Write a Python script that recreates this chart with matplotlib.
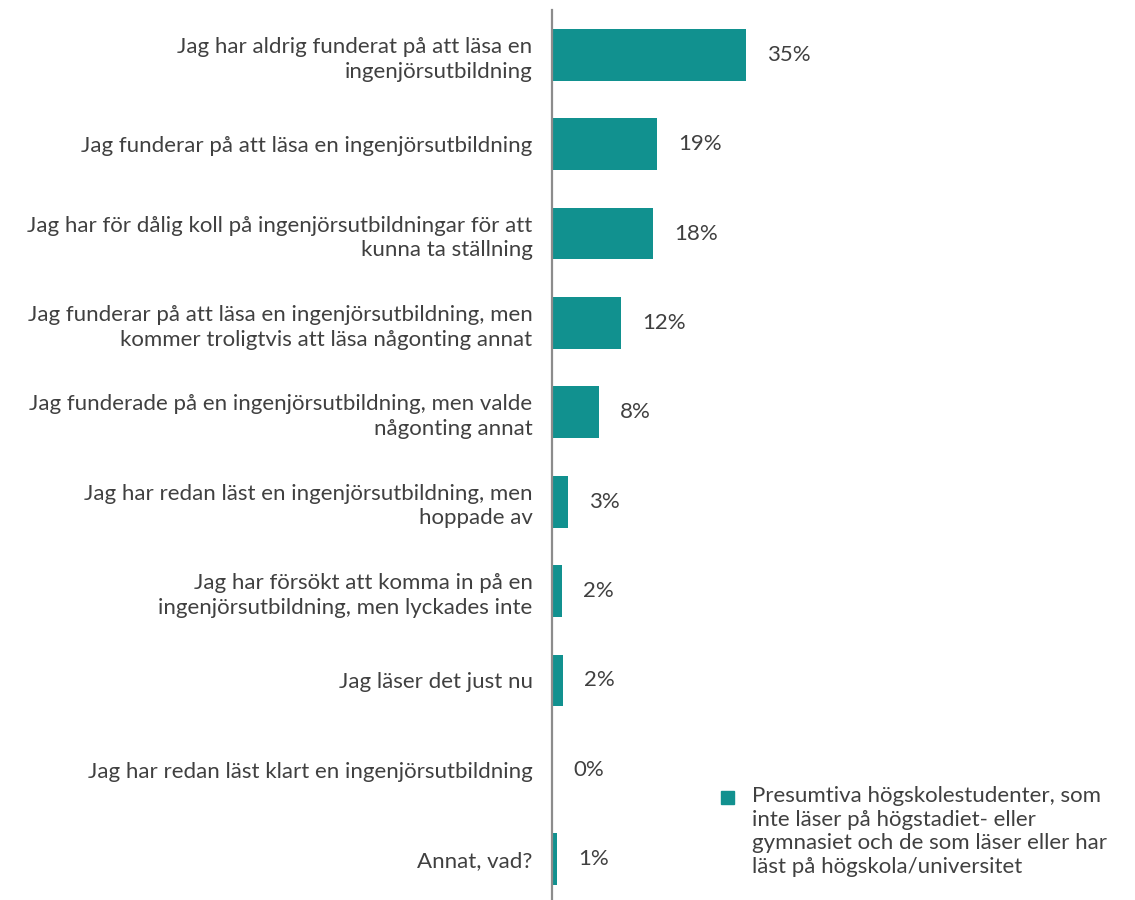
import matplotlib
matplotlib.use("Agg")
import matplotlib.pyplot as plt
from matplotlib.patches import Rectangle

plt.rcParams['font.family'] = ['Lato', 'DejaVu Sans']

categories = [
    "Jag har aldrig funderat på att läsa en\ningenjörsutbildning",
    "Jag funderar på att läsa en ingenjörsutbildning",
    "Jag har för dålig koll på ingenjörsutbildningar för att\nkunna ta ställning",
    "Jag funderar på att läsa en ingenjörsutbildning, men\nkommer troligtvis att läsa någonting annat",
    "Jag funderade på en ingenjörsutbildning, men valde\nnågonting annat",
    "Jag har redan läst en ingenjörsutbildning, men\nhoppade av",
    "Jag har försökt att komma in på en\ningenjörsutbildning, men lyckades inte",
    "Jag läser det just nu",
    "Jag har redan läst klart en ingenjörsutbildning",
    "Annat, vad?",
]
values = [35.0, 19.0, 18.2, 12.4, 8.4, 2.9, 1.8, 1.9, 0.1, 0.9]
series_name = ("Presumtiva högskolestudenter, som\ninte läser på högstadiet- eller\n"
               "gymnasiet och de som läser eller har\nläst på högskola/universitet")

bar_color = "#11918f"
text_color = "#404040"
fs = 16

W, H = 1135, 900
fig = plt.figure(figsize=(W / 100, H / 100), dpi=100)
ax = fig.add_axes([552 / W, -4 / H, (W - 552) / W, 894 / H])

ypos = list(range(len(categories)))
ax.barh(ypos, values, height=0.58, color=bar_color, label=series_name)
for y, v in zip(ypos, values):
    ax.text(v + 3.8, y, f"{v:.0f}%", va="center", ha="left",
            fontsize=fs, color=text_color)

ax.set_ylim(len(categories) - 0.5, -0.5)
ax.set_xlim(0, (W - 552) / 5.54)
ax.set_yticks(ypos)
ax.set_yticklabels(categories, fontsize=fs, color=text_color, linespacing=1.3)
ax.tick_params(axis="y", length=0, pad=14)
ax.set_xticks([])
for s in ["top", "right", "bottom"]:
    ax.spines[s].set_visible(False)
ax.spines["left"].set_color("#8c8c8c")
ax.spines["left"].set_linewidth(1.6)

# legend drawn by hand so the marker sits on the first text line
fig.patches.append(Rectangle((721 / W, 1 - 804 / H), 13 / W, 13 / H,
                             transform=fig.transFigure, color=bar_color))
fig.text(752 / W, 1 - 786 / H, series_name, ha="left", va="top",
         fontsize=fs, color=text_color, linespacing=1.22)

fig.savefig("out.png", dpi=100)
